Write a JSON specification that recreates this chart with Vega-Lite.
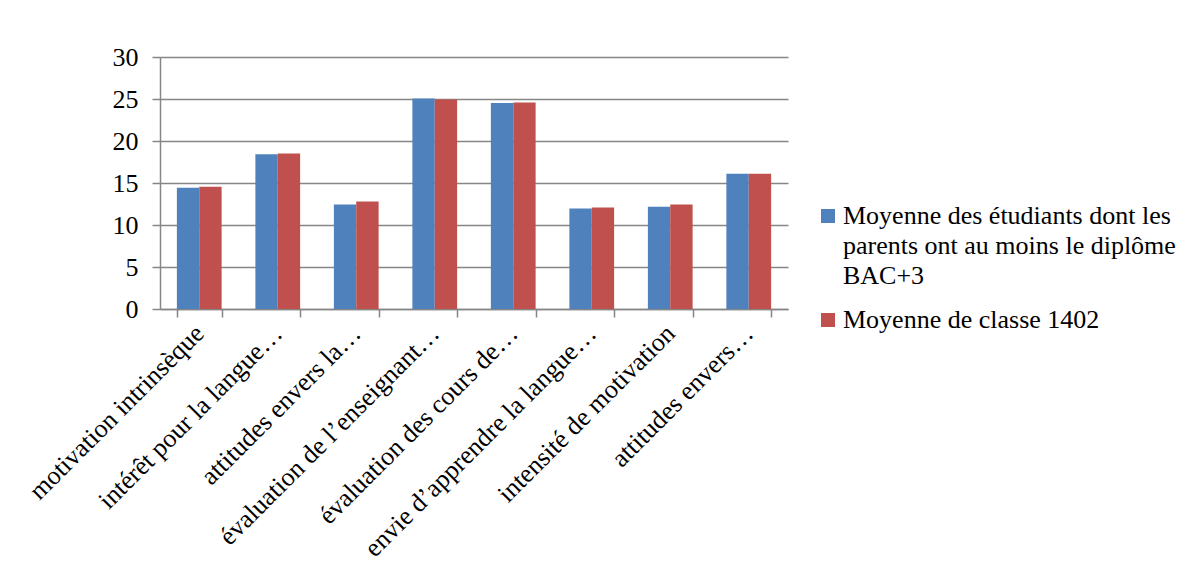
{
  "$schema": "https://vega.github.io/schema/vega-lite/v6.json",
  "width": 628,
  "height": 252,
  "autosize": {"type": "none"},
  "padding": {"left": 160, "top": 57, "right": 409, "bottom": 262},
  "background": "white",
  "config": {
    "font": "Liberation Serif",
    "view": {"stroke": null},
    "style": {"guide-label": {"lineHeight": 30}},
    "axis": {
      "labelFont": "Liberation Serif",
      "labelFontSize": 26,
      "labelColor": "black",
      "domainColor": "#868686",
      "tickColor": "#868686",
      "gridColor": "#868686",
      "domainWidth": 1.5,
      "tickWidth": 1.5,
      "gridWidth": 1.5,
      "tickSize": 8,
      "title": null
    }
  },
  "data": {
    "values": [
      {"cat": "motivation intrinsèque", "serie": "A", "v": 14.42},
      {"cat": "motivation intrinsèque", "serie": "B", "v": 14.54},
      {"cat": "intérêt pour la langue…", "serie": "A", "v": 18.43},
      {"cat": "intérêt pour la langue…", "serie": "B", "v": 18.51},
      {"cat": "attitudes envers la…", "serie": "A", "v": 12.44},
      {"cat": "attitudes envers la…", "serie": "B", "v": 12.79},
      {"cat": "évaluation de l’enseignant…", "serie": "A", "v": 25.07},
      {"cat": "évaluation de l’enseignant…", "serie": "B", "v": 24.95},
      {"cat": "évaluation des cours de…", "serie": "A", "v": 24.51},
      {"cat": "évaluation des cours de…", "serie": "B", "v": 24.59},
      {"cat": "envie d’apprendre la langue…", "serie": "A", "v": 11.96},
      {"cat": "envie d’apprendre la langue…", "serie": "B", "v": 12.08},
      {"cat": "intensité de motivation", "serie": "A", "v": 12.16},
      {"cat": "intensité de motivation", "serie": "B", "v": 12.44},
      {"cat": "attitudes envers…", "serie": "A", "v": 16.09},
      {"cat": "attitudes envers…", "serie": "B", "v": 16.09}
    ]
  },
  "mark": {"type": "bar"},
  "encoding": {
    "x": {
      "field": "cat",
      "type": "nominal",
      "sort": null,
      "scale": {"paddingInner": 0.43, "paddingOuter": 0.215},
      "axis": {
        "labelAngle": -45,
        "labelAlign": "right",
        "labelBaseline": "middle",
        "labelPadding": 12,
        "tickBand": "extent",
        "labelLimit": 500
      }
    },
    "xOffset": {"field": "serie", "type": "nominal"},
    "y": {
      "field": "v",
      "type": "quantitative",
      "scale": {"domain": [0, 30]},
      "axis": {"values": [0, 5, 10, 15, 20, 25, 30], "labelPadding": 14, "domain": true}
    },
    "color": {
      "field": "serie",
      "type": "nominal",
      "scale": {"domain": ["A", "B"], "range": ["#4F81BD", "#C0504D"]},
      "legend": {
        "title": null,
        "orient": "none",
        "legendX": 655,
        "legendY": 146,
        "symbolType": "square",
        "symbolSize": 196,
        "symbolStrokeWidth": 0,
        "labelFont": "Liberation Serif",
        "labelFontSize": 26,
        "labelColor": "black",
        "labelOffset": 2,
        "labelLimit": 500,
        "rowPadding": 18,
        "labelExpr": "datum.value == 'A' ? ['Moyenne des étudiants dont les', 'parents ont au moins le diplôme', 'BAC+3'] : 'Moyenne de classe 1402'"
      }
    }
  }
}
